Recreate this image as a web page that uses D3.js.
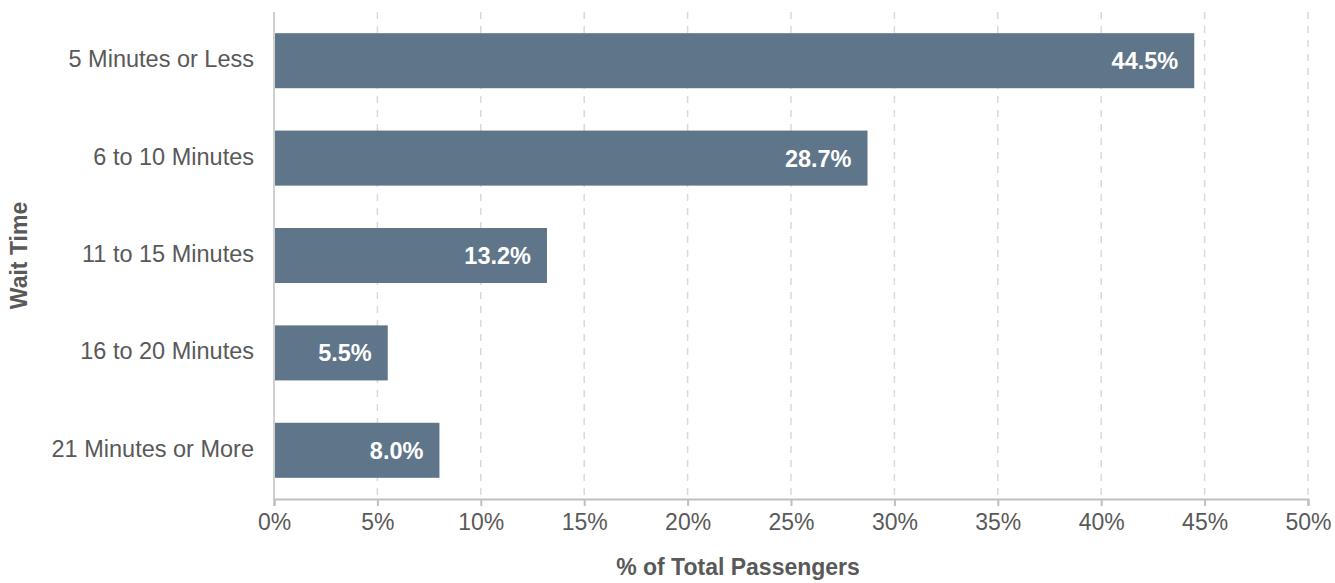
<!DOCTYPE html>
<html>
<head>
<meta charset="utf-8">
<script src="https://cdn.jsdelivr.net/npm/d3@7"></script>
<style>
  body { margin: 0; background: #fff; }
  svg { font-family: "Liberation Sans", Arial, sans-serif; }
</style>
</head>
<body>
<svg id="chart"></svg>
<script>
const categories = ["5 Minutes or Less", "6 to 10 Minutes", "11 to 15 Minutes", "16 to 20 Minutes", "21 Minutes or More"];
const shares = [44.5, 28.7, 13.2, 5.5, 8.0];
const xTicks = [0, 5, 10, 15, 20, 25, 30, 35, 40, 45, 50];

const width = 1335, height = 583;
const margin = { top: 12, right: 27, bottom: 84, left: 274 };

const svg = d3.select("#chart").attr("width", width).attr("height", height);
const g = svg.append("g").attr("transform", `translate(${margin.left},${margin.top})`);

const w = width - margin.left - margin.right;
const h = height - margin.top - margin.bottom;

const x = d3.scaleLinear().domain([0, 50]).range([0, w]);
const y = d3.scaleBand().domain(categories).range([0, h]).paddingInner(0.435).paddingOuter(0.2175);

// dashed grid
g.selectAll(".grid").data(xTicks.slice(1)).enter().append("line")
  .attr("x1", d => x(d)).attr("x2", d => x(d))
  .attr("y1", 0).attr("y2", h)
  .attr("stroke", "#d9d9d9").attr("stroke-width", 1.5)
  .attr("stroke-dasharray", "7,7");

// bars
const data = categories.map((c, i) => ({ c, v: shares[i] }));
g.selectAll(".bar").data(data).enter().append("rect")
  .attr("x", 0).attr("y", d => y(d.c))
  .attr("width", d => x(d.v)).attr("height", y.bandwidth())
  .attr("fill", "#5f7589");

g.selectAll(".lbl").data(data).enter().append("text")
  .attr("x", d => x(d.v) - 16)
  .attr("y", d => y(d.c) + y.bandwidth() / 2)
  .attr("dy", "0.36em")
  .attr("text-anchor", "end")
  .attr("fill", "#fff").style("font-weight", "bold").style("font-size", "23.5px")
  .text(d => d.v.toFixed(1) + "%");

// left axis line
g.append("line").attr("x1", 0).attr("x2", 0).attr("y1", 0).attr("y2", h)
  .attr("stroke", "#d0d0d0").attr("stroke-width", 2);

// bottom axis
const xAxis = g.append("g").attr("transform", `translate(0,${h})`)
  .call(d3.axisBottom(x).tickValues(xTicks).tickSize(7).tickPadding(8).tickFormat(d => d + "%"));
xAxis.select(".domain").attr("stroke", "#bfbfbf").attr("stroke-width", 2);
xAxis.selectAll(".tick line").attr("stroke", "#bfbfbf").attr("stroke-width", 2);
xAxis.selectAll(".tick text").attr("fill", "#595959").style("font-size", "23px").style("font-family", "Liberation Sans, Arial, sans-serif");

// category labels
g.selectAll(".cat").data(categories).enter().append("text")
  .attr("x", -20).attr("y", d => y(d) + y.bandwidth() / 2 - 2)
  .attr("dy", "0.36em").attr("text-anchor", "end")
  .attr("fill", "#595959").style("font-size", "23.5px")
  .text(d => d);

// titles
svg.append("text").attr("x", 738).attr("y", 575)
  .attr("text-anchor", "middle").attr("fill", "#595959")
  .style("font-weight", "bold").style("font-size", "23px")
  .text("% of Total Passengers");

svg.append("text").attr("transform", `translate(27,${margin.top + h / 2}) rotate(-90)`)
  .attr("text-anchor", "middle").attr("fill", "#595959")
  .style("font-weight", "bold").style("font-size", "23px")
  .text("Wait Time");
</script>
</body>
</html>
